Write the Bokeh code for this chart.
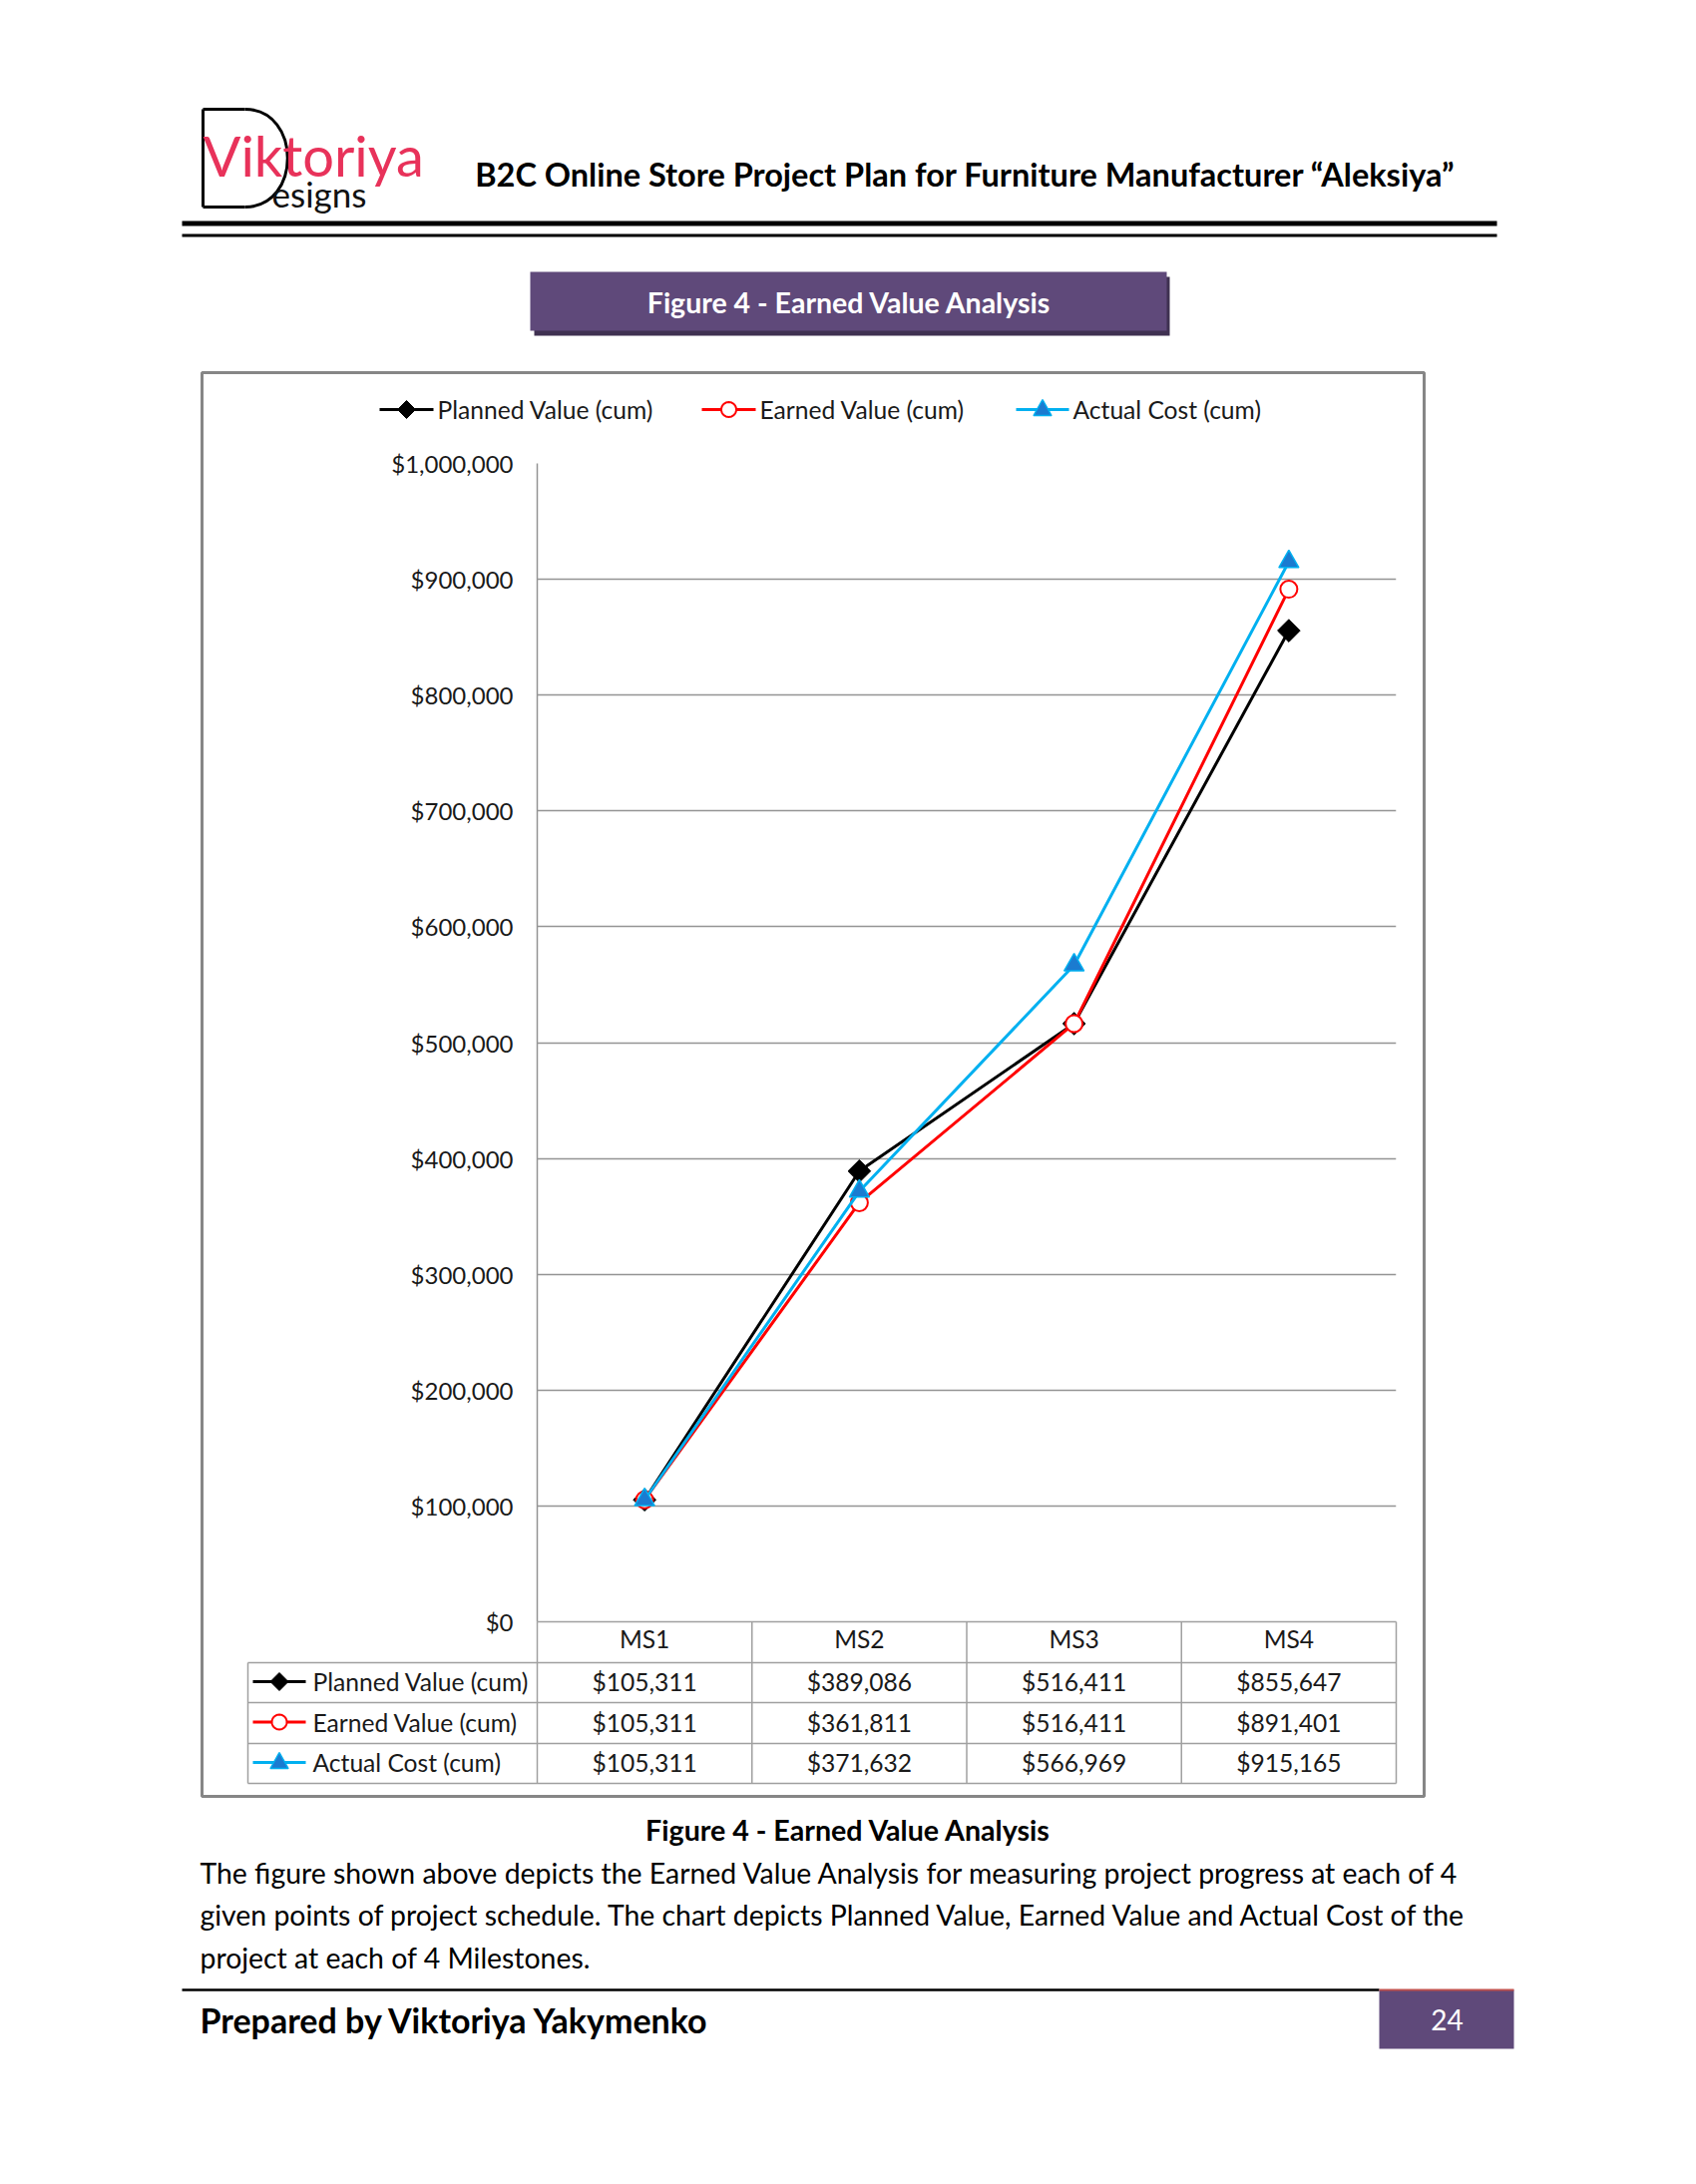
import numpy as np
from bokeh.plotting import figure
from bokeh.models import Range1d, FixedTicker, NumeralTickFormatter
from bokeh.core.properties import value
from bokeh.embed import file_html
from bokeh.resources import INLINE

# ---------------- data ----------------
categories = ["MS1", "MS2", "MS3", "MS4"]
planned = [105311, 389086, 516411, 855647]
earned = [105311, 361811, 516411, 891401]
actual = [105311, 371632, 566969, 915165]
series_names = ["Planned Value (cum)", "Earned Value (cum)", "Actual Cost (cum)"]
y_ticks = [0, 100000, 200000, 300000, 400000, 500000, 600000, 700000, 800000, 900000, 1000000]

header_title = "B2C Online Store Project Plan for Furniture Manufacturer \u201cAleksiya\u201d"
figure_title = "Figure 4 - Earned Value Analysis"
paragraph = [
    "The figure shown above depicts the Earned Value Analysis for measuring project progress at each of 4",
    "given points of project schedule. The chart depicts Planned Value, Earned Value and Actual Cost of the",
    "project at each of 4 Milestones.",
]
footer_text = "Prepared by Viktoriya Yakymenko"
page_number = "24"

# category slots on a numeric axis (centre of each slot)
x_pos = [i + 0.5 for i in range(len(categories))]

# ---------------- styles ----------------
W, H = 1700, 2189
OFF = 0
FL, FR, FT, FB = 538, 1399, 464, 1625   # plot frame in page pixels
FONT = "Lato"
PURPLE = "#5F497A"
GRID = "#949494"
TABLE = "#A0A0A0"
TXT = "24.6px"

series_styles = [
    dict(color="#000000", marker="square", size=16, angle=np.pi / 4, fill="#000000", line="#000000", lw=1, key="diamond"),
    dict(color="#FF0000", marker="circle", size=17, angle=0.0, fill="#FFFFFF", line="#FF0000", lw=2, key="circle"),
    dict(color="#00B0F0", marker="triangle", size=20, angle=0.0, fill="#1B7BD0", line="#00B0F0", lw=1.5, key="triangle"),
]
series_values = [planned, earned, actual]

p = figure(width=W, height=H, x_range=Range1d(0, len(categories)), y_range=Range1d(0, 1000000),
           output_backend="svg", toolbar_location=None,
           min_border_left=FL - OFF, min_border_right=W - (FR - OFF),
           min_border_top=FT - OFF, min_border_bottom=H - (FB - OFF))
p.extra_x_ranges = {"page": Range1d(FL, FR)}
p.extra_y_ranges = {"page": Range1d(FB, FT)}
p.outline_line_color = None
p.background_fill_color = "white"
p.border_fill_color = "white"

# axes
p.yaxis.ticker = FixedTicker(ticks=y_ticks)
p.yaxis.formatter = NumeralTickFormatter(format="$0,0")
p.yaxis.axis_line_color = GRID
p.yaxis.axis_line_width = 1.5
p.yaxis.major_tick_line_color = None
p.yaxis.minor_tick_line_color = None
p.yaxis.major_label_standoff = 18
p.yaxis.major_label_text_font = FONT
p.yaxis.major_label_text_font_size = "24px"
p.yaxis.major_label_text_color = "#1a1a1a"

p.xaxis.ticker = FixedTicker(ticks=x_pos)
p.xaxis.major_label_overrides = {x: c for x, c in zip(x_pos, categories)}
p.xaxis.axis_line_color = None
p.xaxis.major_tick_line_color = None
p.xaxis.minor_tick_line_color = None
p.xaxis.major_label_standoff = -4
p.xaxis.major_label_text_font = FONT
p.xaxis.major_label_text_font_size = TXT
p.xaxis.major_label_text_color = "#1a1a1a"

p.xgrid.grid_line_color = None
p.ygrid.ticker = FixedTicker(ticks=y_ticks)
p.ygrid.grid_line_color = GRID
p.ygrid.grid_line_width = 1.5

PX = dict(x_range_name="page", y_range_name="page")


def seg(x0, y0, x1, y1, color, w):
    p.segment(x0=[x0], y0=[y0], x1=[x1], y1=[y1], line_color=color, line_width=w,
              level="annotation", **PX)


def box(l, t, r, b, fill, line=None, lw=1):
    p.quad(left=[l], right=[r], top=[t], bottom=[b], fill_color=fill,
           line_color=line, line_width=lw, level="annotation", **PX)


def label(x, y, text, size, color="#000000", bold=False, align="left", font=FONT):
    p.text(x=[x], y=[y], text=[text], text_font=value(font), text_font_size=value(f"{size}px"),
           text_color=color, text_font_style=value("bold" if bold else "normal"),
           text_align=value(align), text_baseline=value("middle"), level="overlay", **PX)


def key(x0, x1, yc, st):
    p.line(x=[x0, x1], y=[yc, yc], line_color=st["color"], line_width=3, level="annotation", **PX)
    cx = (x0 + x1) / 2
    if st["key"] == "diamond":
        xs, ys = [cx, cx + 9, cx, cx - 9], [yc - 9, yc, yc + 9, yc]
    elif st["key"] == "triangle":
        xs, ys = [cx, cx + 9, cx - 9], [yc - 10, yc + 6, yc + 6]
    else:
        t = np.linspace(0, 2 * np.pi, 33)[:-1]
        xs, ys = list(cx + 7.5 * np.cos(t)), list(yc + 7.5 * np.sin(t))
    p.patch(xs, ys, fill_color=st["fill"], line_color=st["line"], line_width=st["lw"],
            level="annotation", **PX)


# ---------------- header ----------------
seg(203, 109, 203, 207, "#000000", 3)
seg(203, 109, 245, 109, "#000000", 3)
seg(203, 207, 245, 207, "#000000", 3)
p.bezier(x0=[245], y0=[109], x1=[245], y1=[207], cx0=[302], cy0=[109], cx1=[302], cy1=[207],
         line_color="#000000", line_width=3, level="annotation", **PX)
label(203, 155, "Viktoriya", 56, color="#E8325A")
label(272, 193, "esigns", 35, color="#111111")
label(967, 174, header_title, 32.5, bold=True, align="center")
box(182, 221, 1500, 226, "#000000")
box(182, 234, 1500, 237, "#000000")

# purple title box
box(535, 277, 1172, 336, "#3F3151")
box(531, 272, 1169, 331, PURPLE)
label(851, 302, figure_title, 28.5, color="#FFFFFF", bold=True, align="center")

# chart border
box(202, 373, 1427, 1800, None, line="#868686", lw=3)

# legend
legend_pos = [(380, 434, 438), (703, 757, 761), (1018, 1071, 1075)]
for (x0, x1, xt), st, name in zip(legend_pos, series_styles, series_names):
    key(x0, x1, 410, st)
    label(xt, 410, name, 24.6, color="#1a1a1a")

# ---------------- data series ----------------
for vals, st in zip(series_values, series_styles):
    p.line(x_pos, vals, line_color=st["color"], line_width=3)
    p.scatter(x_pos, vals, marker=st["marker"], size=st["size"], angle=st["angle"],
              fill_color=st["fill"], line_color=st["line"], line_width=st["lw"])

# ---------------- data table ----------------
col_w = (FR - FL) / len(categories)
row_edges = [1625, 1666, 1706, 1747, 1787]
seg(FL, row_edges[0], FR, row_edges[0], TABLE, 1.5)
for yv in row_edges[1:]:
    seg(248, yv, FR, yv, TABLE, 1.5)
seg(248, row_edges[1], 248, row_edges[-1], TABLE, 1.5)
for i in range(len(categories) + 1):
    seg(FL + i * col_w, row_edges[0], FL + i * col_w, row_edges[-1], TABLE, 1.5)

for r, (vals, st, name) in enumerate(zip(series_values, series_styles, series_names)):
    yc = (row_edges[r + 1] + row_edges[r + 2]) / 2 - 1
    key(253, 306, yc, st)
    label(313, yc, name, 24.6, color="#1a1a1a")
    p.text(x=x_pos, y=[yc] * len(categories), text=[f"${v:,}" for v in vals],
           text_font=value(FONT), text_font_size=value(TXT), text_color="#1a1a1a",
           text_align=value("center"), text_baseline=value("middle"), level="overlay",
           y_range_name="page")

# ---------------- caption & paragraph ----------------
label(850, 1833, figure_title, 28.6, bold=True, align="center")
for i, line in enumerate(paragraph):
    label(200, 1876 + i * 42.5, line, 28.4)

# ---------------- footer ----------------
seg(182, 1994, 1382, 1994, "#000000", 2.5)
box(1382, 1994, 1517, 2053, PURPLE)
seg(1382, 1994, 1517, 1994, "#C0504D", 2)
label(1450, 2024, page_number, 28, color="#FFFFFF", align="center")
label(200, 2024, footer_text, 34, bold=True)

open("out.html", "w").write(file_html(p, INLINE))
